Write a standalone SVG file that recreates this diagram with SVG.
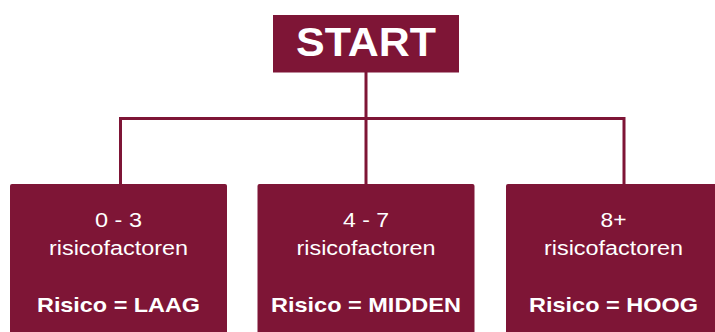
<svg xmlns="http://www.w3.org/2000/svg" width="715" height="332" viewBox="0 0 715 332">
<style>
.box{fill:#7E1536}
.conn{fill:none;stroke:#7E1536;stroke-width:3}
.t{font-family:"Liberation Sans",Arial,sans-serif;fill:#ffffff;text-anchor:middle}
.r{font-size:20px}
.b{font-size:21px;font-weight:bold}
.h{font-size:41px;font-weight:bold}
</style>
<rect width="715" height="332" fill="#ffffff"/>
<g id="connectors">
<line class="conn" x1="366" y1="72" x2="366" y2="184"/>
<polyline class="conn" points="120.5,184 120.5,118.5 624,118.5 624,184"/>
</g>
<g id="start">
<rect class="box" x="273" y="15" width="186" height="57.5"/>
<text class="t h" x="366" y="56" textLength="140" lengthAdjust="spacingAndGlyphs">START</text>
</g>
<g id="laag">
<rect class="box" x="10" y="184" width="217" height="160" rx="2"/>
<text class="t r" x="118.5" y="227" textLength="47" lengthAdjust="spacingAndGlyphs">0 - 3</text>
<text class="t r" x="118.5" y="255" textLength="139" lengthAdjust="spacingAndGlyphs">risicofactoren</text>
<text class="t b" x="118.5" y="312" textLength="163" lengthAdjust="spacingAndGlyphs">Risico = LAAG</text>
</g>
<g id="midden">
<rect class="box" x="257.5" y="184" width="217" height="160" rx="2"/>
<text class="t r" x="366" y="227" textLength="46" lengthAdjust="spacingAndGlyphs">4 - 7</text>
<text class="t r" x="366" y="255" textLength="139" lengthAdjust="spacingAndGlyphs">risicofactoren</text>
<text class="t b" x="366" y="312" textLength="190" lengthAdjust="spacingAndGlyphs">Risico = MIDDEN</text>
</g>
<g id="hoog">
<rect class="box" x="506" y="184" width="217" height="160" rx="2"/>
<text class="t r" x="613.5" y="227" textLength="26" lengthAdjust="spacingAndGlyphs">8+</text>
<text class="t r" x="613.5" y="255" textLength="139" lengthAdjust="spacingAndGlyphs">risicofactoren</text>
<text class="t b" x="613.5" y="312" textLength="169" lengthAdjust="spacingAndGlyphs">Risico = HOOG</text>
</g>
</svg>
